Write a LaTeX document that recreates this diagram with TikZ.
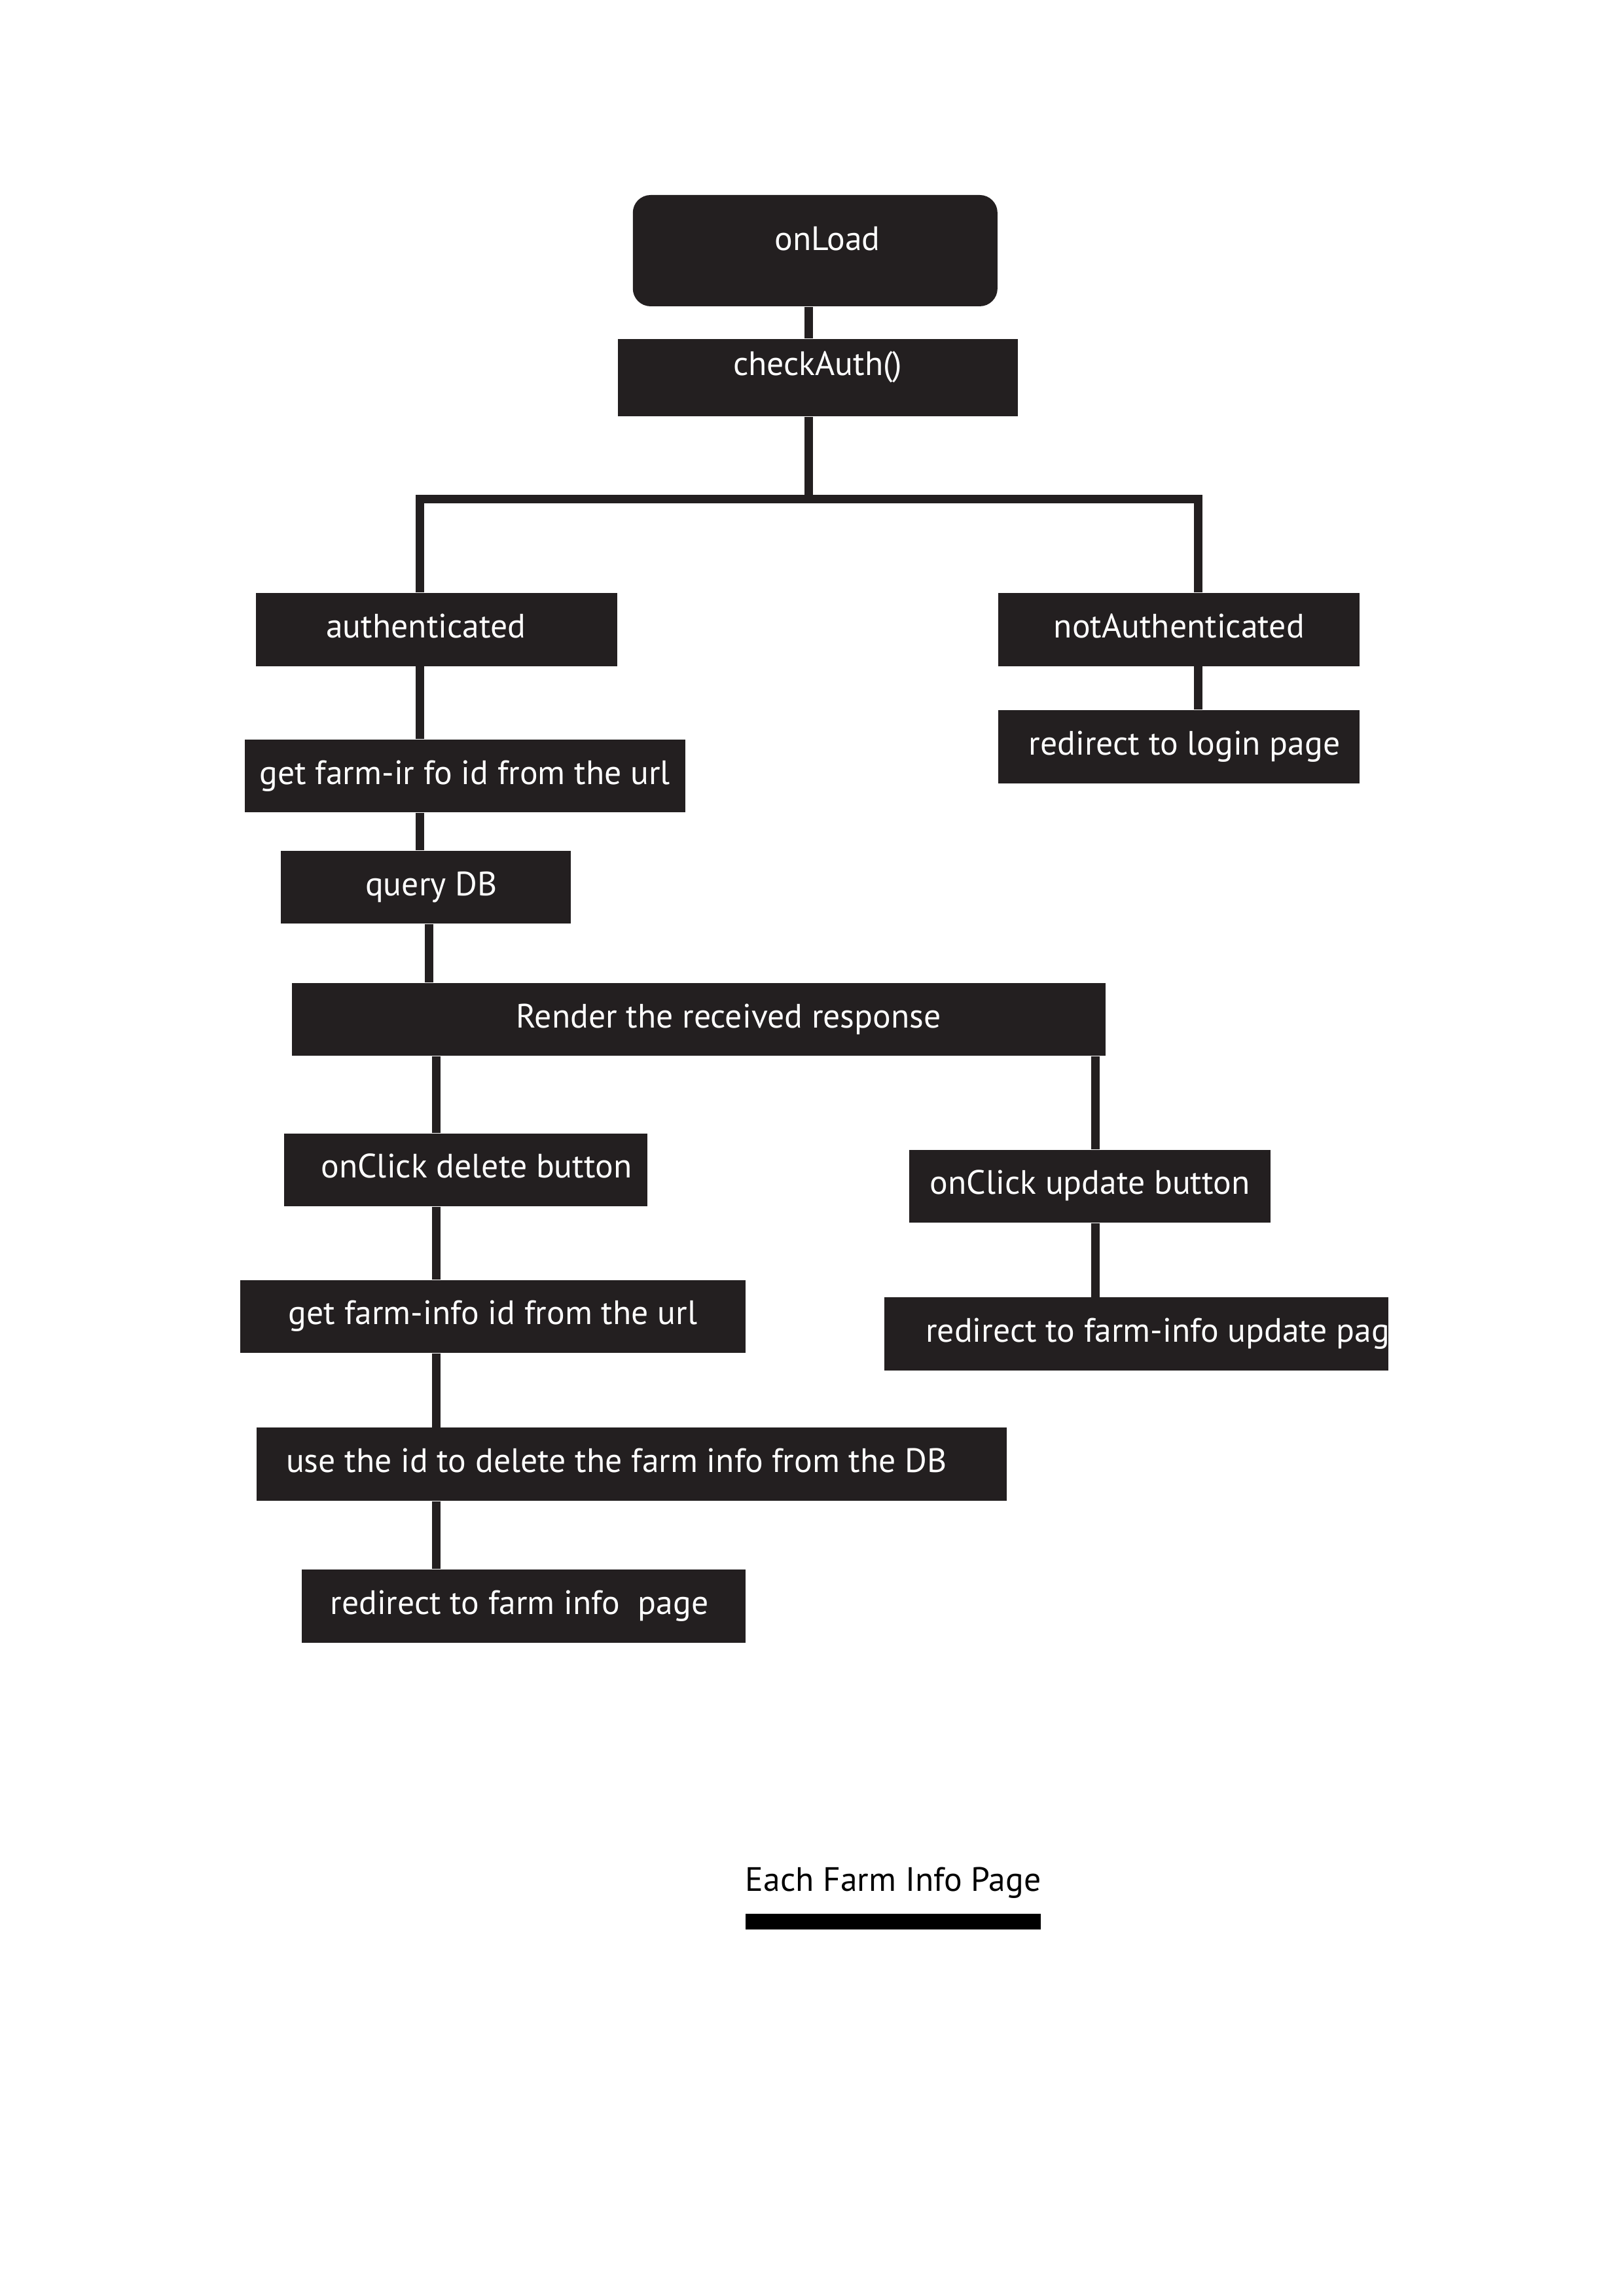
\documentclass[tikz,border=0pt]{standalone}
\usepackage{fontspec}
\setmainfont{PT Sans}
\definecolor{boxblack}{HTML}{231F20}
\newcommand{\nudge}[1]{\hspace*{#1}}
\begin{document}
\begin{tikzpicture}[x=0.23872pt, y=-0.23872pt,
	box/.style={fill=boxblack, text=white, inner sep=0pt, minimum height=26.74pt,
		text height=9pt, text depth=3pt, font=\fontsize{12.4}{15}\selectfont},
	link/.style={draw=boxblack, line width=3.1pt}]
	\useasboundingbox (0,0) rectangle (2494.3,3526.8);
	% boxes
	\node[box, rounded corners=6.5pt, minimum width=133.7pt, minimum height=40.8pt, text depth=9pt] (onload) at (1252,385) {\nudge{9pt}onLoad};
	\node[box, minimum width=146.6pt, minimum height=28.4pt, text depth=10.5pt] (check) at (1256,580) {checkAuth()};
	\node[box, minimum width=132.5pt] (auth) at (671,967) {authenticated\nudge{8pt}};
	\node[box, minimum width=132.5pt] (notauth) at (1811,967) {notAuthenticated};
	\node[box, minimum width=132.5pt] (login) at (1811,1147) {\nudge{4pt}redirect to login page};
	\node[box, minimum width=161.6pt] (getid) at (714,1192) {get farm-ir fo id from the url};
	\node[box, minimum width=106.2pt] (query) at (654,1363) {\nudge{4pt}query DB};
	\node[box, minimum width=298.4pt] (render) at (1073,1566) {\nudge{22pt}Render the received response};
	\node[box, minimum width=133.2pt] (delete) at (715,1797) {\nudge{8pt}onClick delete button};
	\node[box, minimum width=132.5pt] (update) at (1674,1822) {onClick update button};
	\node[box, minimum width=184.8pt] (updpage) at (1745,2049) {};
	\begin{scope}
		\clip (updpage.south west) rectangle (updpage.north east);
		\node[box, fill=none, anchor=west] (updtext) at (1421,2049) {redirect to farm-info update pag};
	\end{scope}
	\node[box, minimum width=185.2pt] (getid2) at (757,2022) {get farm-info id from the url};
	\node[box, minimum width=275.2pt] (usedel) at (970,2249) {use the id to delete the farm info from the DB\nudge{11pt}};
	\node[box, minimum width=162.8pt] (redir) at (804,2467) {redirect to farm info\ \ page\nudge{3pt}};
	% columns of the connectors
	\coordinate (split) at (1242,767);
	\coordinate (colA) at (645,0);
	\coordinate (colB) at (659,0);
	\coordinate (colC) at (670,0);
	\coordinate (colD) at (1682,0);
	\coordinate (colE) at (1840,0);
	% connectors
	\draw[link] (onload.south -| split) -- (check.north -| split);
	\draw[link] (check.south -| split) -- (split);
	\draw[link] (auth.north -| colA) |- (split) -| (notauth.north -| colE);
	\draw[link] (notauth.south -| colE) -- (login.north -| colE);
	\draw[link] (auth.south -| colA) -- (getid.north -| colA);
	\draw[link] (getid.south -| colA) -- (query.north -| colA);
	\draw[link] (query.south -| colB) -- (render.north -| colB);
	\draw[link] (render.south -| colC) -- (delete.north -| colC);
	\draw[link] (render.south -| colD) -- (update.north -| colD);
	\draw[link] (update.south -| colD) -- (updpage.north -| colD);
	\draw[link] (delete.south -| colC) -- (getid2.north -| colC);
	\draw[link] (getid2.south -| colC) -- (usedel.north -| colC);
	\draw[link] (usedel.south -| colC) -- (redir.north -| colC);
	% title
	\node[font=\fontsize{12.4}{15}\selectfont, inner sep=0pt] (title) at (1372,2892) {Each Farm Info Page};
	\fill (1145,2940) rectangle (1599,2964);
\end{tikzpicture}
\end{document}
